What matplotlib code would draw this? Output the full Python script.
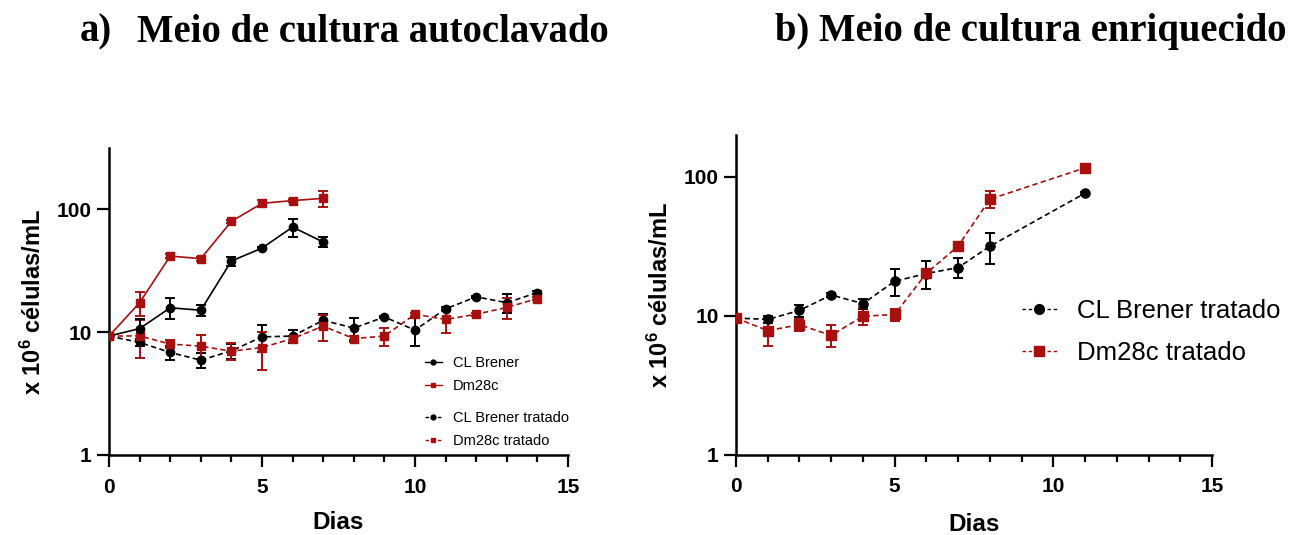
import numpy as np
import matplotlib
matplotlib.use("Agg")
import matplotlib.pyplot as plt
from matplotlib.ticker import FixedLocator, NullFormatter, NullLocator
from matplotlib.lines import Line2D

plt.rcParams['font.family'] = ['Liberation Sans', 'DejaVu Sans']
plt.rcParams['font.weight'] = 'bold'
plt.rcParams['mathtext.fontset'] = 'custom'
plt.rcParams['mathtext.rm'] = 'Liberation Sans:bold'
plt.rcParams['mathtext.it'] = 'Liberation Sans:bold'
plt.rcParams['mathtext.bf'] = 'Liberation Sans:bold'

RED = "#A80F0F"
BLACK = "#000000"

# ---------------- Panel a data ----------------
days_a_short = [0, 1, 2, 3, 4, 5, 6, 7]
clb_a = [9.3, 10.7, 15.8, 15.1, 38.0, 48.4, 71.8, 54.2]
clb_a_err = [0.3, 2.0, 3.1, 1.5, 3.2, 1.0, 12.0, 5.0]
dm_a = [9.3, 17.4, 41.7, 39.7, 79.9, 112.0, 118.0, 123.0]
dm_a_err = [0.3, 3.8, 1.5, 1.5, 2.5, 8.0, 3.0, 18.0]

days_a_long = [0, 1, 2, 3, 4, 5, 6, 7, 8, 9, 10, 11, 12, 13, 14]
clbt_a = [9.3, 8.25, 6.84, 5.92, 7.05, 9.16, 9.3, 12.5, 10.8, 13.3, 10.4, 15.5, 19.4, 17.4, 21.0]
clbt_a_err = [0.3, 0.6, 0.9, 0.8, 0.95, 2.3, 1.2, 1.6, 2.2, 0.3, 2.7, 0.4, 0.4, 3.0, 0.5]
dmt_a = [9.3, 9.33, 8.0, 7.7, 7.0, 7.5, 8.88, 11.2, 8.88, 9.3, 14.0, 12.7, 14.0, 15.9, 18.8]
dmt_a_err = [0.3, 3.2, 0.6, 1.7, 1.1, 2.6, 0.5, 2.7, 0.5, 1.6, 0.4, 2.9, 0.4, 3.0, 0.5]

# ---------------- Panel b data ----------------
days_b = [0, 1, 2, 3, 4, 5, 6, 7, 8, 11]
clbt_b = [9.6, 9.4, 10.9, 14.1, 12.2, 17.7, 20.1, 22.2, 31.6, 76.2]
clbt_b_err = [0.3, 0.6, 1.1, 0.4, 1.0, 3.8, 4.5, 3.6, 8.0, 2.0]
dmt_b = [9.6, 7.8, 8.6, 7.2, 9.9, 10.2, 20.2, 31.7, 69.0, 116.0]
dmt_b_err = [0.3, 1.8, 0.8, 1.3, 1.4, 1.0, 0.6, 0.8, 9.5, 2.0]

labels_a = ["CL Brener", "Dm28c", "CL Brener tratado", "Dm28c tratado"]
labels_b = ["CL Brener tratado", "Dm28c tratado"]
x_ticks = [0, 5, 10, 15]
y_ticks = [1, 10, 100]
y_ticklabels = ["1", "10", "100"]

W, H = 1302, 535
fig = plt.figure(figsize=(W / 100, H / 100), dpi=100)


def px_axes(l, r, t, b):
    return fig.add_axes([l / W, 1 - b / H, (r - l) / W, (b - t) / H])


ax_a = px_axes(109, 568, 148, 455)
ax_b = px_axes(736, 1212, 135, 454.5)

LW = 1.2
MS = 6.0
CAP = 3.6
DASH = (3.2, 2.0)


def series(ax, x, y, e, color, marker, dashed, ms=MS):
    ls = (0, DASH) if dashed else '-'
    ax.errorbar(x, y, yerr=e, color=color, marker=marker, ms=ms, lw=LW,
                linestyle=ls, capsize=CAP, elinewidth=1.4, capthick=1.4,
                mec=color, mfc=color, zorder=3)


series(ax_a, days_a_long, clbt_a, clbt_a_err, BLACK, 'o', True)
series(ax_a, days_a_long, dmt_a, dmt_a_err, RED, 's', True)
series(ax_a, days_a_short, clb_a, clb_a_err, BLACK, 'o', False)
series(ax_a, days_a_short, dm_a, dm_a_err, RED, 's', False)

series(ax_b, days_b, clbt_b, clbt_b_err, BLACK, 'o', True, ms=6.6)
series(ax_b, days_b, dmt_b, dmt_b_err, RED, 's', True, ms=6.6)

for ax, ytop, xpad in ((ax_a, 10 ** 2.5, 10), (ax_b, 200, 12)):
    ax.set_yscale('log')
    ax.set_xlim(0, 15)
    ax.set_ylim(1, ytop)
    ax.xaxis.set_major_locator(FixedLocator(x_ticks))
    ax.xaxis.set_minor_locator(FixedLocator(list(range(0, 16))))
    ax.set_xticklabels([str(t) for t in x_ticks])
    ax.yaxis.set_major_locator(FixedLocator(y_ticks))
    ax.yaxis.set_minor_locator(NullLocator())
    ax.yaxis.set_minor_formatter(NullFormatter())
    ax.set_yticklabels(y_ticklabels)
    for s in ('top', 'right'):
        ax.spines[s].set_visible(False)
    for s in ('left', 'bottom'):
        ax.spines[s].set_linewidth(1.8)
    ax.tick_params(axis='x', which='major', length=8.5, width=1.6, direction='out', pad=8, labelsize=15)
    ax.tick_params(axis='x', which='minor', length=5, width=1.6, direction='out')
    ax.tick_params(axis='y', which='major', length=8.5, width=1.6, direction='out', pad=4, labelsize=15)
    ax.set_xlabel("Dias", fontsize=17.5, fontweight='bold', labelpad=xpad)
    ax.set_ylabel("x 10$^{6}$ células/mL", fontsize=17, fontweight='bold', labelpad=8)
    for lab in ax.get_xticklabels() + ax.get_yticklabels():
        lab.set_fontweight('bold')
    ax.set_facecolor('none')


def h(color, marker, dashed, ms):
    return Line2D([0], [0], color=color, marker=marker, ms=ms, lw=1.0,
                  linestyle=(0, (2.5, 2)) if dashed else '-', mec=color, mfc=color)


leg_kw_a = dict(loc='upper left', frameon=False, fontsize=10.5, handlelength=1.15,
                handletextpad=0.75, labelspacing=0.6, borderpad=0, borderaxespad=0)
leg1 = ax_a.legend([h(BLACK, 'o', False, 3.5), h(RED, 's', False, 3.5)], labels_a[:2],
                   bbox_to_anchor=((425 - 109) / 459, 1 - (356 - 148) / 307), **leg_kw_a)
for t in leg1.get_texts():
    t.set_fontweight('normal')
ax_a.add_artist(leg1)
leg2 = ax_a.legend([h(BLACK, 'o', True, 3.5), h(RED, 's', True, 3.5)], labels_a[2:],
                   bbox_to_anchor=((425 - 109) / 459, 1 - (411 - 148) / 307), **leg_kw_a)
for t in leg2.get_texts():
    t.set_fontweight('normal')

leg3 = ax_b.legend([h(BLACK, 'o', True, 7), h(RED, 's', True, 7)], labels_b,
                   loc='upper left', bbox_to_anchor=((1022 - 736) / 476, 1 - (299 - 135) / 319.5),
                   frameon=False, fontsize=18.5, handlelength=1.36, handletextpad=0.78,
                   labelspacing=0.7, borderpad=0, borderaxespad=0)
for t in leg3.get_texts():
    t.set_fontweight('normal')

TF = dict(fontsize=27.8, fontweight='bold', family=['Liberation Serif', 'DejaVu Serif'], va='center', ha='left')
fig.text(80 / W, 1 - 32 / H, "a)", **TF)
fig.text(137 / W, 1 - 32 / H, "Meio de cultura autoclavado", **TF)
fig.text(775 / W, 1 - 32 / H, "b) Meio de cultura enriquecido", **TF)

fig.savefig("out.png", dpi=100)
